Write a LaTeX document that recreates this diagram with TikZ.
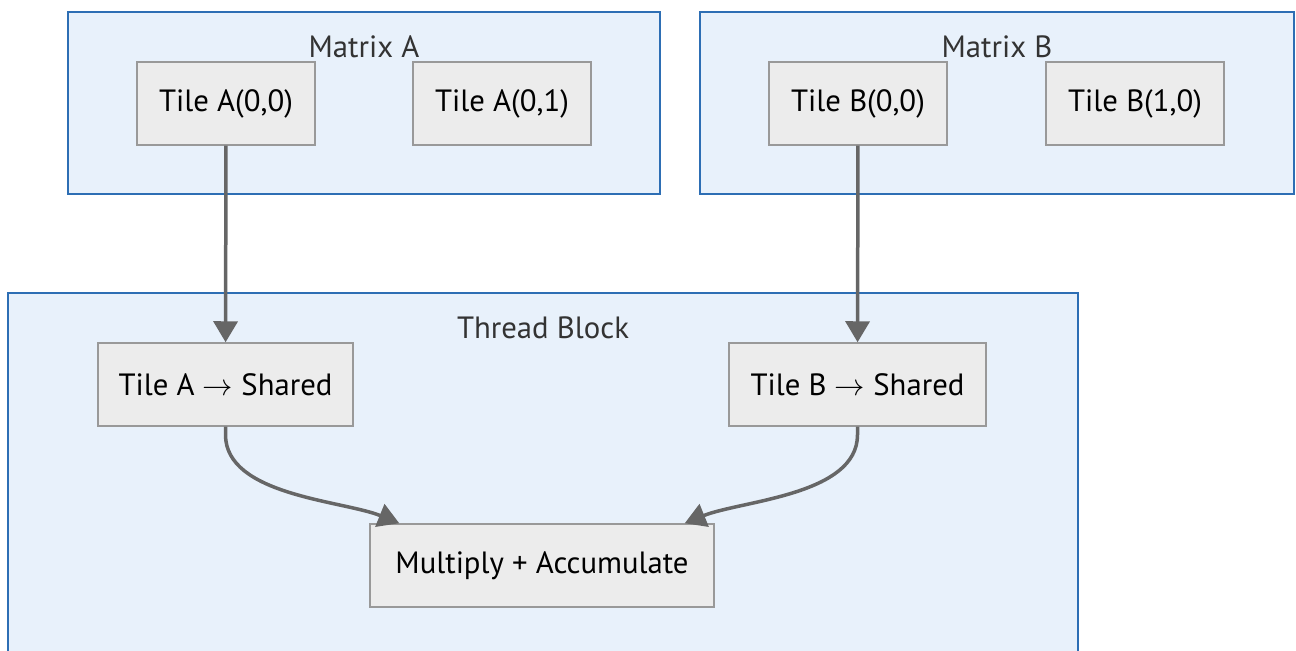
\documentclass[tikz,border=0pt]{standalone}
\usepackage{fontspec}
\setmainfont{PT Sans}
\usepackage{tikz}
\definecolor{grpfill}{RGB}{232,241,251}
\definecolor{grpline}{RGB}{45,110,180}
\definecolor{tilefill}{RGB}{236,236,236}
\definecolor{tileline}{RGB}{153,153,153}
\definecolor{flowgray}{RGB}{102,102,102}
\definecolor{titlegray}{RGB}{51,51,51}
\usetikzlibrary{arrows.meta,positioning,calc}

\tikzset{
  groupbox/.style={draw=grpline,fill=grpfill,line width=0.03cm,inner sep=0pt},
  grouptitle/.style={text=titlegray,font=\fontsize{17.5}{20}\selectfont,inner sep=0pt},
  tilebox/.style={draw=tileline,fill=tilefill,line width=0.03cm,minimum width=3.56cm,
    minimum height=1.66cm,inner sep=0pt,font=\fontsize{17.5}{20}\selectfont},
  flowarrow/.style={draw=flowgray,line width=0.07cm,
    -{Triangle[length=0.42cm,width=0.48cm]}}
}

\begin{document}
\begin{tikzpicture}[x=0.02cm,y=-0.02cm]
      \clip (0,0) rectangle (1296,651);
      % clusters
      \node[groupbox,minimum width=11.84cm,minimum height=3.64cm] (matA) at (364,103) {};
      \node[groupbox,minimum width=11.88cm,minimum height=3.64cm] (matB) at (997,103) {};
      \node[groupbox,minimum width=21.4cm,minimum height=7.6cm] (blk) at (543,483) {};
      \node[grouptitle] at (364,47) {Matrix A};
      \node[grouptitle] at (997,47) {Matrix B};
      \node[grouptitle] at (543,328) {Thread Block};
      % tiles
      \node[tilebox] (a00) at (226,103.5) {Tile A(0,0)};
      \node[tilebox] (a01) at (502,103.5) {Tile A(0,1)};
      \node[tilebox] (b00) at (858,103.5) {Tile B(0,0)};
      \node[tilebox] (b10) at (1135,103.5) {Tile B(1,0)};
      \node[tilebox,minimum width=5.1cm] (shA) at (225.5,384.5) {Tile A $\rightarrow$ Shared};
      \node[tilebox,minimum width=5.14cm] (shB) at (857.5,384.5) {Tile B $\rightarrow$ Shared};
      \node[tilebox,minimum width=6.88cm] (mac) at (542,565.5) {Multiply + Accumulate};
      % arrows
      \draw[flowarrow] (a00) -- (shA);
      \draw[flowarrow] (b00) -- (shB);
      \draw[flowarrow] (shA.south) -- ++(0,8) to[out=-90,in=158,looseness=0.8] ([xshift=0.6cm]mac.north west);
      \draw[flowarrow] (shB.south) -- ++(0,8) to[out=-90,in=22,looseness=0.8] ([xshift=-0.6cm]mac.north east);
\end{tikzpicture}
\end{document}
